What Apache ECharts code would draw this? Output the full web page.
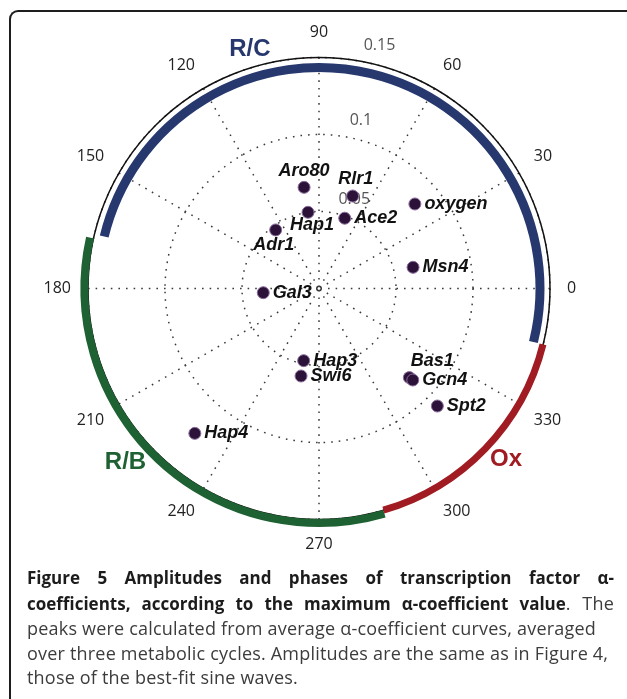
<!DOCTYPE html>
<html><head><meta charset="utf-8">
<script src="https://cdn.jsdelivr.net/npm/echarts/dist/echarts.min.js"></script>
<style>
html,body{margin:0;padding:0;background:#fff;}
#wrap{position:relative;width:627px;height:699px;overflow:hidden;}
#chart{position:absolute;left:0;top:0;width:627px;height:699px;}
#frame{position:absolute;left:9px;top:10px;width:660px;height:740px;border-top:2px solid #1e1e1e;border-left:2px solid #1e1e1e;border-top-left-radius:9px;box-sizing:border-box;}
#caption{position:absolute;left:27px;top:565px;width:587px;font-family:'Open Sans',sans-serif;font-size:18px;letter-spacing:0.2px;line-height:24.6px;color:#3c3c3c;}
#caption div{white-space:nowrap;}
#caption .j{text-align:justify;text-align-last:justify;white-space:normal;}
#caption b{color:#1c1c1c;font-weight:700;font-size:17px;letter-spacing:0;}
</style>
</head><body>
<div id="wrap">
<div id="frame"></div>
<div id="chart"></div>
<div id="caption">
<div class="j"><b>Figure 5 Amplitudes and phases of transcription factor α-</b></div>
<div class="j"><b>coefficients, according to the maximum α-coefficient value</b>. The</div>
<div>peaks were calculated from average α-coefficient curves, averaged</div>
<div>over three metabolic cycles. Amplitudes are the same as in Figure 4,</div>
<div>those of the best-fit sine waves.</div>
</div>
</div>
<script>
// ---- data ----
const factorNames = ['Aro80','Rlr1','Hap1','Ace2','Adr1','oxygen','Msn4','Gal3','Hap3','Swi6','Bas1','Gcn4','Spt2','Hap4'];
const amplitudes  = [0.0664, 0.0639, 0.0500, 0.0486, 0.0473, 0.0830, 0.0626, 0.0363, 0.0479, 0.0580, 0.0824, 0.0851, 0.1083, 0.1239];
const phases      = [98.4, 70.0, 98.2, 69.9, 126.5, 41.4, 12.7, 184.3, 258.0, 258.4, 315.4, 315.7, 315.2, 229.4];

const radiusTicks = [0.05, 0.1, 0.15];
const angleTicks  = [0, 30, 60, 90, 120, 150, 180, 210, 240, 270, 300, 330];

const phaseNames  = ['R/C', 'R/B', 'Ox'];
const phaseStart  = [346, 167.5, 286.2];
const phaseEnd    = [526.4, 286.2, 346];

// ---- layout / style ----
const arcRadius   = [0.1435, 0.1523, 0.1499];
const arcWidth    = [9, 8, 7];
const arcColors   = ['#27386e', '#1e6132', '#a01c22'];
const arcLabelR   = [0.1618, 0.1688, 0.1647];
const arcLabelAng = [106.1, 221.9, 317.5];
const tickLabelAng = [68.5, 76, 76];
const tickLabelPad = 0.0125;

const labelPlacement = {
  Aro80: {position:'top', distance:1},
  Rlr1:  {position:'top', distance:1, offset:[3,0]},
  Hap1:  {position:'bottom', distance:-3, offset:[4,0]},
  Adr1:  {position:'bottom', distance:0, offset:[-2,0]},
  Bas1:  {position:'top', distance:1, offset:[23,0]}
};

const chart = echarts.init(document.getElementById('chart'), null, {renderer:'canvas'});
const dotted = {type:[1.6, 6], width:1.5, color:'#3a3a3a'};

const option = {
  animation: false,
  polar: {center:[319, 288.5], radius:231},
  angleAxis: {
    type:'value', min:0, max:360, interval:30, startAngle:0, clockwise:false,
    axisLine:{show:true, lineStyle:{color:'#111', width:1.5}},
    axisTick:{show:false},
    axisLabel:{show:true, margin:17, fontFamily:'Open Sans', fontSize:16, color:'#222',
      formatter: v => angleTicks.indexOf(v) >= 0 ? String(v) : ''},
    splitLine:{show:true, lineStyle:dotted}
  },
  radiusAxis: {
    type:'value', min:0, max:0.15, interval:0.05,
    axisLine:{show:false}, axisTick:{show:false}, axisLabel:{show:false},
    splitLine:{show:true, lineStyle:dotted}
  },
  series: [
    {
      type:'custom', coordinateSystem:'polar', z:3, silent:true, clip:false,
      encode:{radius:0, angle:1},
      data: phaseNames.map((n,i)=>({name:n, value:[arcRadius[i], phaseStart[i]]})),
      renderItem: function(params, api){
        const i = params.dataIndex;
        const c = api.coord([0, 0]);
        const p = api.coord([arcRadius[i], 0]);
        const r = Math.hypot(p[0]-c[0], p[1]-c[1]);
        const lp = api.coord([arcLabelR[i], arcLabelAng[i]]);
        return {type:'group', children:[
          {type:'arc', shape:{cx:c[0], cy:c[1], r:r,
             startAngle:-phaseEnd[i]*Math.PI/180, endAngle:-phaseStart[i]*Math.PI/180, clockwise:true},
           style:{stroke:arcColors[i], lineWidth:arcWidth[i], fill:null, lineCap:'butt'}},
          {type:'text', style:{text:phaseNames[i], x:lp[0], y:lp[1], align:'center', verticalAlign:'middle',
             font:'bold 24px "Liberation Sans", Arial, sans-serif', fill:arcColors[i]}}
        ]};
      }
    },
    {
      type:'scatter', coordinateSystem:'polar', z:4, silent:true, symbolSize:0, clip:false,
      data: radiusTicks.map((t,i)=>({name:String(t), value:[t + tickLabelPad, tickLabelAng[i]]})),
      label:{show:true, position:'inside', formatter:p=>p.name, fontFamily:'Open Sans', fontSize:16, color:'#2a2a2a'}
    },
    {
      type:'scatter', coordinateSystem:'polar', z:5, silent:true, symbolSize:12, clip:false,
      itemStyle:{color:'#2c1238', borderColor:'#8a6c9c', borderWidth:1, opacity:1},
      data: factorNames.map((n,i)=>{
        const pl = labelPlacement[n] || {position:'right', distance:3};
        return {name:n, value:[amplitudes[i], phases[i]], label:Object.assign({}, pl)};
      }),
      label:{show:true, formatter:p=>p.name, fontFamily:'Liberation Sans', fontStyle:'italic', fontWeight:'bold', fontSize:18, color:'#111'}
    }
  ]
};
chart.setOption(option);
</script>
</body></html>
